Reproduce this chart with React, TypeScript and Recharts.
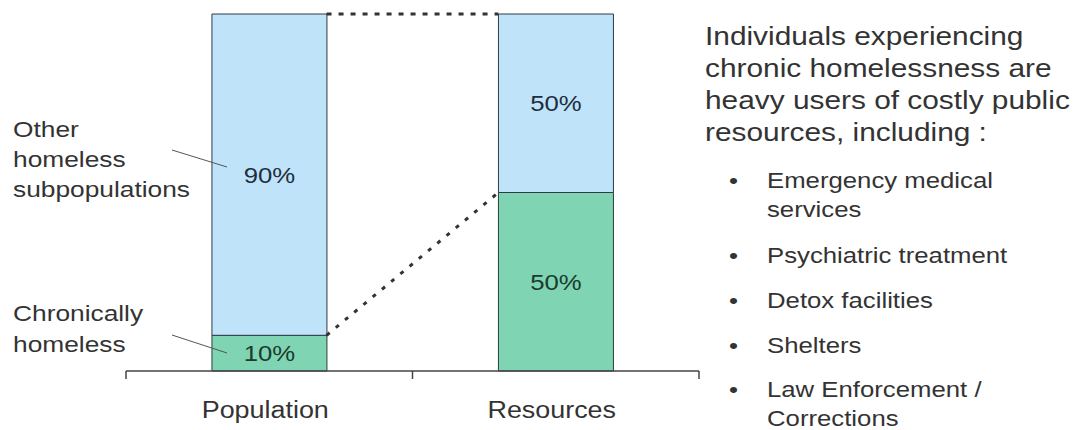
import React from 'react';
import { ComposedChart, Bar, Line, XAxis, YAxis, LabelList } from 'recharts';

const categories = ['Population', 'Resources'];
const chronicValues = [10, 50];
const otherValues = [90, 50];
const headingLines = [
  'Individuals experiencing',
  'chronic homelessness are',
  'heavy users of costly public',
  'resources, including :',
];
const bulletItems = [
  ['Emergency medical', 'services'],
  ['Psychiatric treatment'],
  ['Detox facilities'],
  ['Shelters'],
  ['Law Enforcement /', 'Corrections'],
];
const otherLabelLines = ['Other', 'homeless', 'subpopulations'];
const chronicLabelLines = ['Chronically', 'homeless'];

const W = 1083;
const H = 430;
const SX = 1.17;
const FONT = '"Liberation Sans", Arial, sans-serif';
const GAP_PCT = 30;
const HALF_BAR = (1 - (2 * GAP_PCT) / 100) / 2;

const data = categories.map((name, i) => ({
  name,
  chronic: chronicValues[i],
  other: otherValues[i],
}));

const topConnector = [
  { x: 0.5 + HALF_BAR, y: chronicValues[0] + otherValues[0] },
  { x: 1.5 - HALF_BAR, y: chronicValues[1] + otherValues[1] },
];
const splitConnector = [
  { x: 0.5 + HALF_BAR, y: chronicValues[0] },
  { x: 1.5 - HALF_BAR, y: chronicValues[1] },
];

const makeLabel = (color: string) => (props: any) => {
  const { x, y, width, height, value } = props;
  const cx = Number(x) + Number(width) / 2;
  const cy = Number(y) + Number(height) / 2;
  return (
    <text
      transform={`translate(${cx},${cy + 8}) scale(${SX},1)`}
      textAnchor="middle"
      fontSize={22}
      fontFamily={FONT}
      fill={color}
    >
      {`${value}%`}
    </text>
  );
};

const AxisTick = (props: any) => {
  const { x, y, payload } = props;
  const v = Number(payload.value);
  if (Number.isInteger(v)) {
    return <line x1={x} x2={x} y1={y} y2={y + 8} stroke="#444" strokeWidth={1.5} />;
  }
  const label = categories[Math.floor(v)];
  return (
    <text
      transform={`translate(${x - 4},${y + 47}) scale(${SX},1)`}
      textAnchor="middle"
      fontSize={23}
      fontFamily={FONT}
      fill="#333"
    >
      {label}
    </text>
  );
};

const ST = (props: any) => (
  <text
    transform={`translate(${props.x},${props.y}) scale(${SX},1)`}
    fontSize={props.size}
    fontFamily={FONT}
    fill="#333"
  >
    {props.children}
  </text>
);

export default function App() {
  const bulletBaselines = [[188, 217], [263], [308], [353], [397, 426]];
  return (
    <div style={{ position: 'absolute', left: 0, top: 0, width: W, height: H, background: '#fff' }}>
      <ComposedChart
        width={W}
        height={H}
        data={data}
        margin={{ top: 14, right: 384, bottom: 0, left: 126 }}
        barCategoryGap={`${GAP_PCT}%`}
      >
        <XAxis
          xAxisId="num"
          type="number"
          dataKey="x"
          domain={[0, 2]}
          ticks={[0, 0.5, 1, 1.5, 2]}
          interval={0}
          tickLine={false}
          tickSize={0}
          tickMargin={0}
          axisLine={{ stroke: '#444', strokeWidth: 1.5 }}
          tick={<AxisTick />}
          height={59}
          allowDataOverflow
        />
        <XAxis xAxisId="cat" dataKey="name" hide height={0} />
        <YAxis domain={[0, 100]} hide />
        <Bar
          xAxisId="cat"
          dataKey="chronic"
          stackId="a"
          fill="#7fd4b3"
          stroke="#2f3f3a"
          strokeWidth={1}
          isAnimationActive={false}
        >
          <LabelList dataKey="chronic" content={makeLabel('#1b3b2c')} />
        </Bar>
        <Bar
          xAxisId="cat"
          dataKey="other"
          stackId="a"
          fill="#bfe3f9"
          stroke="#2f3a45"
          strokeWidth={1}
          isAnimationActive={false}
        >
          <LabelList dataKey="other" content={makeLabel('#1f2d40')} />
        </Bar>
        <Line
          xAxisId="num"
          data={topConnector}
          dataKey="y"
          stroke="#333"
          strokeWidth={3}
          strokeDasharray="5 7"
          dot={false}
          activeDot={false}
          isAnimationActive={false}
        />
        <Line
          xAxisId="num"
          data={splitConnector}
          dataKey="y"
          stroke="#333"
          strokeWidth={3}
          strokeDasharray="4 8"
          dot={false}
          activeDot={false}
          isAnimationActive={false}
        />
      </ComposedChart>
      <svg
        width={W}
        height={H}
        style={{ position: 'absolute', left: 0, top: 0, pointerEvents: 'none' }}
      >
        {otherLabelLines.map((t, i) => (
          <ST key={t} x={13} y={137 + i * 30} size={22.5}>{t}</ST>
        ))}
        {chronicLabelLines.map((t, i) => (
          <ST key={t} x={13} y={321 + i * 31} size={22.5}>{t}</ST>
        ))}
        <line x1={172} y1={150} x2={227} y2={167} stroke="#555" strokeWidth={1} />
        <line x1={172} y1={335} x2={227} y2={353} stroke="#555" strokeWidth={1} />
        {headingLines.map((t, i) => (
          <ST key={t} x={705} y={45 + i * 32} size={25.5}>{t}</ST>
        ))}
        {bulletItems.map((lines, i) => (
          <g key={i}>
            <ST x={729} y={bulletBaselines[i][0]} size={22}>•</ST>
            {lines.map((t, j) => (
              <ST key={t} x={767} y={bulletBaselines[i][j]} size={22}>{t}</ST>
            ))}
          </g>
        ))}
      </svg>
    </div>
  );
}
